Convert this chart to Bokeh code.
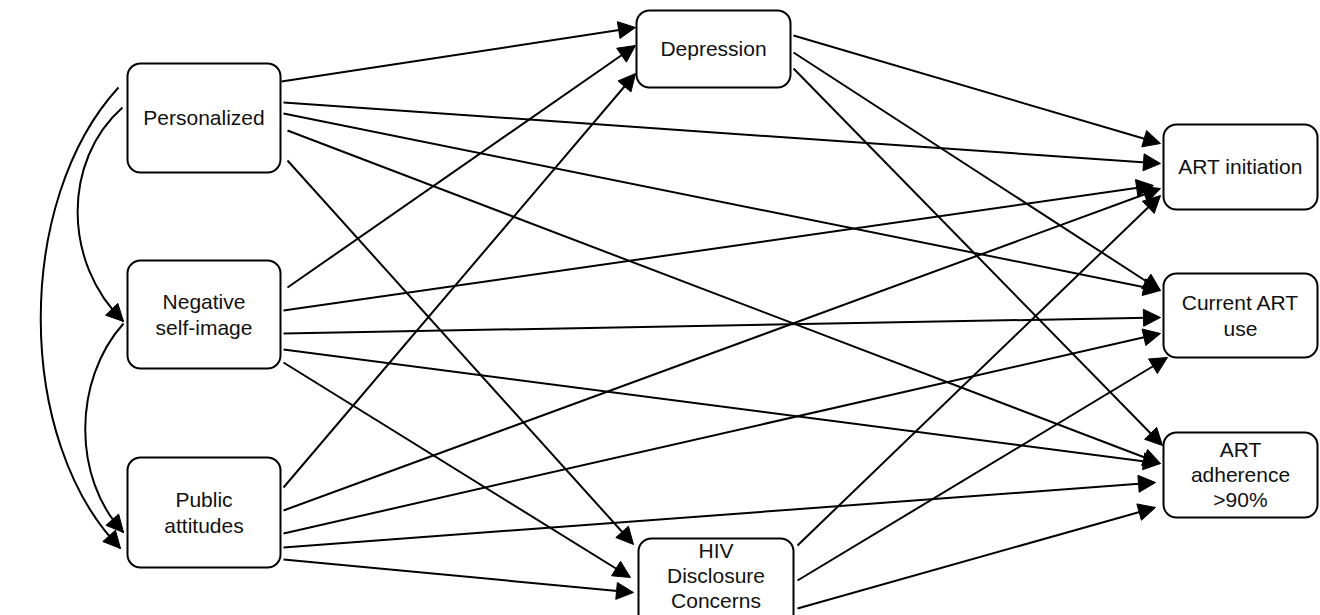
from bokeh.plotting import figure
from bokeh.models import Range1d, Arrow, NormalHead, ColumnDataSource
from bokeh.core.properties import value
from bokeh.embed import file_html
from bokeh.resources import INLINE

# ---- data: nodes and paths ----
node_ids = ["P", "N", "Pu", "D", "H", "A1", "A2", "A3"]
node_labels = ["Personalized", "Negative\nself-image", "Public\nattitudes", "Depression",
               "HIV\nDisclosure\nConcerns", "ART initiation", "Current ART\nuse",
               "ART\nadherence\n>90%"]
edge_src = ["P", "P", "P", "P", "P", "N", "N", "N", "N", "N", "Pu", "Pu", "Pu", "Pu", "Pu",
            "D", "D", "D", "H", "H", "H"]
edge_dst = ["D", "A1", "A2", "A3", "H", "D", "A1", "A2", "A3", "H", "D", "A1", "A2", "A3", "H",
            "A1", "A2", "A3", "A1", "A2", "A3"]
corr_src = ["P", "P", "N"]
corr_dst = ["N", "Pu", "Pu"]

# ---- layout (pixel-like coordinates, y downward) ----
boxes = {  # left, right, top, bottom
    "P": (127, 280, 63, 172), "N": (127, 280, 260, 368), "Pu": (127, 280, 457, 567),
    "D": (636, 790, 10, 87), "H": (638, 793, 538, 630),
    "A1": (1163, 1317, 124, 209), "A2": (1163, 1317, 273, 357), "A3": (1163, 1317, 432, 517),
}
text_y = {"P": 117, "N": 314, "Pu": 512, "D": 48, "H": 575, "A1": 166, "A2": 315, "A3": 474}
edge_pts = {
    ("P", "D"): (281, 81, 635, 27), ("P", "A1"): (283, 102, 1160, 163),
    ("P", "A2"): (283, 113, 1160, 290), ("P", "A3"): (287, 130, 1160, 463),
    ("P", "H"): (287, 160, 633, 544),
    ("N", "D"): (287, 287, 635, 45), ("N", "A1"): (283, 310, 1153, 185),
    ("N", "A2"): (283, 333, 1160, 317), ("N", "A3"): (283, 349, 1160, 463),
    ("N", "H"): (283, 362, 630, 577),
    ("Pu", "D"): (283, 487, 635, 73), ("Pu", "A1"): (283, 510, 1160, 188),
    ("Pu", "A2"): (283, 533, 1160, 333), ("Pu", "A3"): (283, 547, 1155, 482),
    ("Pu", "H"): (283, 559, 633, 592),
    ("D", "A1"): (793, 35, 1160, 143), ("D", "A2"): (793, 52, 1160, 290),
    ("D", "A3"): (793, 68, 1162, 445),
    ("H", "A1"): (797, 545, 1160, 195), ("H", "A2"): (797, 580, 1167, 357),
    ("H", "A3"): (797, 608, 1155, 507),
}
curve_pts = {  # x0, y0, cx0, cy0, cx1, cy1, x1, y1
    ("P", "N"): (122, 107, 62, 160, 62, 262, 123, 321),
    ("P", "Pu"): (118, 87, 14, 200, 14, 440, 120, 548),
    ("N", "Pu"): (123, 323, 72, 380, 72, 478, 123, 532),
}

p = figure(width=1320, height=615, x_range=Range1d(0, 1320), y_range=Range1d(615, 0),
           output_backend="svg", toolbar_location=None, min_border=0)
p.axis.visible = False
p.grid.visible = False
p.outline_line_color = None

def head():
    return NormalHead(size=17, fill_color="black", line_color="black", line_width=1)

for s, d in zip(edge_src, edge_dst):
    x0, y0, x1, y1 = edge_pts[(s, d)]
    p.add_layout(Arrow(end=head(), x_start=x0, y_start=y0, x_end=x1, y_end=y1,
                       line_width=2, line_color="black"))

def bez(c, t):
    x0, y0, cx0, cy0, cx1, cy1, x1, y1 = c
    u = 1 - t
    bx = u**3 * x0 + 3 * u * u * t * cx0 + 3 * u * t * t * cx1 + t**3 * x1
    by = u**3 * y0 + 3 * u * u * t * cy0 + 3 * u * t * t * cy1 + t**3 * y1
    return bx, by

for s, d in zip(corr_src, corr_dst):
    c = curve_pts[(s, d)]
    p.bezier(x0=[c[0]], y0=[c[1]], cx0=[c[2]], cy0=[c[3]], cx1=[c[4]], cy1=[c[5]],
             x1=[c[6]], y1=[c[7]], line_width=2, line_color="black")
    ax, ay = bez(c, 0.96)
    p.add_layout(Arrow(end=head(), x_start=ax, y_start=ay, x_end=c[6], y_end=c[7],
                       line_width=2, line_color="black"))

src = ColumnDataSource(dict(
    left=[boxes[n][0] for n in node_ids], right=[boxes[n][1] for n in node_ids],
    top=[boxes[n][2] for n in node_ids], bottom=[boxes[n][3] for n in node_ids],
    tx=[(boxes[n][0] + boxes[n][1]) / 2 for n in node_ids],
    ty=[text_y[n] for n in node_ids], label=node_labels))
p.quad(left="left", right="right", top="top", bottom="bottom", source=src,
       fill_color="white", line_color="black", line_width=2, border_radius=13)
p.text(x="tx", y="ty", text="label", source=src, text_align="center",
       text_baseline="middle", text_font=value("Liberation Sans"),
       text_font_size="21px", text_color="#111111", text_line_height=1.1)

open("out.html", "w").write(file_html(p, INLINE))
